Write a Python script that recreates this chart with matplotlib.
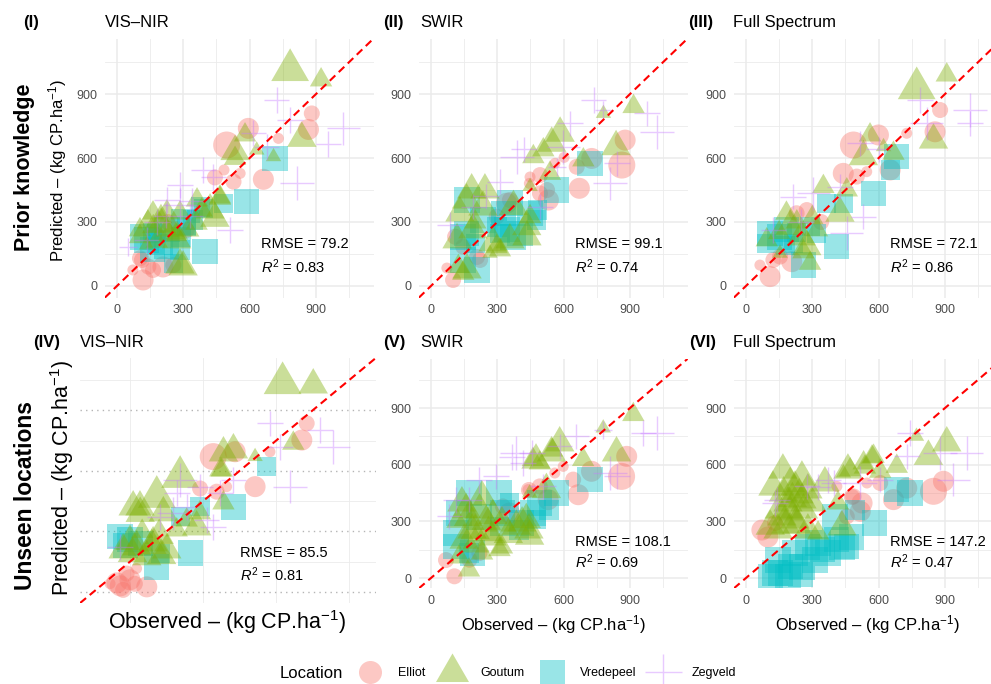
import matplotlib
matplotlib.use("Agg")
import matplotlib.pyplot as plt
from matplotlib.lines import Line2D

plt.rcParams['font.family'] = ['Liberation Sans', 'DejaVu Sans']
plt.rcParams['mathtext.fontset'] = 'custom'
plt.rcParams['mathtext.rm'] = 'Liberation Sans'
plt.rcParams['mathtext.it'] = 'Liberation Sans:italic'

locations = ['Elliot', 'Goutum', 'Vredepeel', 'Zegveld']
loc_colors = ['#F8766D', '#7CAE00', '#00BFC4', '#C77CFF']

# points: (observed, predicted, uncertainty class 1-4)
I_elliot = [(881, 809, 2), (866, 734, 3), (730, 692, 1), (594, 739, 3), (496, 661, 4), (662, 500, 3),
            (557, 528, 1), (527, 489, 2), (443, 509, 2), (484, 544, 1), (118, 28, 3), (104, 130, 2),
            (72, 75, 1), (142, 91, 2), (208, 89, 3), (255, 98, 2), (163, 75, 2), (113, 122, 2),
            (315, 262, 2), (180, 247, 1), (230, 300, 2)]
I_goutum = [(783, 1012, 4), (923, 966, 2), (836, 692, 3), (579, 708, 2), (534, 630, 3), (534, 598, 2),
            (632, 637, 1), (708, 606, 1), (466, 411, 2), (383, 356, 2), (443, 317, 3), (270, 216, 3),
            (164, 278, 2), (104, 231, 2), (285, 98, 3), (225, 262, 2), (322, 262, 2), (199, 325, 2),
            (360, 294, 2), (134, 192, 1), (250, 250, 3), (180, 210, 2), (163, 342, 2), (226, 347, 2),
            (285, 342, 2), (299, 89, 3), (362, 403, 2), (421, 356, 3), (466, 417, 2), (140, 300, 2),
            (200, 290, 3), (271, 248, 2), (104, 263, 2)]
I_vredepeel = [(715, 598, 3), (587, 395, 3), (398, 161, 3), (481, 387, 2), (391, 364, 2), (315, 278, 2),
               (134, 216, 3), (225, 184, 3), (255, 106, 2), (180, 247, 2), (345, 325, 1), (160, 170, 3),
               (290, 230, 2), (118, 230, 3), (195, 202, 3), (285, 169, 2), (344, 309, 2), (226, 263, 3),
               (160, 250, 2), (300, 300, 3), (376, 370, 2)]
I_zegveld = [(722, 872, 2), (1024, 739, 3), (956, 666, 2), (813, 484, 3), (783, 778, 2), (677, 653, 2),
             (436, 512, 2), (285, 473, 2), (285, 380, 3), (511, 262, 2), (134, 216, 2), (51, 184, 1),
             (617, 716, 2), (391, 544, 2), (340, 400, 2), (220, 330, 2), (226, 403, 2), (180, 300, 2),
             (330, 330, 2)]

II_elliot = [(878, 684, 3), (863, 567, 4), (727, 598, 3), (671, 458, 3), (659, 559, 2), (531, 403, 3),
             (493, 520, 2), (561, 575, 1), (445, 481, 1), (602, 603, 1), (493, 434, 2), (100, 28, 2),
             (72, 84, 1), (109, 231, 2), (146, 184, 2), (222, 122, 2), (342, 388, 3), (297, 325, 2),
             (357, 403, 2), (448, 511, 1), (525, 450, 2), (208, 136, 2)]
II_goutum = [(916, 841, 2), (780, 809, 1), (837, 653, 3), (584, 716, 3), (546, 669, 3), (508, 638, 2),
             (463, 606, 2), (689, 591, 2), (538, 528, 2), (448, 466, 1), (373, 372, 3), (433, 278, 3),
             (357, 216, 3), (184, 450, 3), (244, 450, 3), (161, 403, 3), (131, 342, 3), (124, 91, 2),
             (146, 59, 2), (297, 184, 2), (267, 153, 1), (235, 370, 3), (200, 300, 2), (118, 216, 3),
             (281, 202, 3), (312, 169, 2), (434, 230, 3), (448, 325, 2), (163, 75, 3), (190, 263, 3)]
II_vredepeel = [(719, 575, 3), (569, 450, 3), (448, 341, 3), (403, 247, 3), (327, 341, 3), (163, 403, 3),
                (161, 247, 3), (145, 122, 3), (208, 75, 3), (312, 247, 2), (478, 309, 2), (357, 389, 3),
                (235, 309, 3), (344, 263, 3), (145, 230, 3), (299, 277, 2), (480, 356, 2), (371, 230, 3),
                (200, 200, 2)]
II_zegveld = [(735, 872, 2), (780, 825, 1), (1021, 723, 3), (976, 809, 2), (840, 575, 2), (810, 481, 3),
              (629, 762, 2), (599, 653, 3), (388, 606, 3), (312, 489, 2), (192, 372, 2), (86, 286, 2),
              (493, 372, 2), (569, 559, 1), (420, 640, 2), (250, 420, 2)]

III_elliot = [(878, 825, 2), (855, 723, 3), (727, 716, 1), (599, 708, 3), (486, 661, 4), (652, 544, 3),
              (440, 528, 3), (546, 536, 1), (501, 513, 2), (109, 44, 3), (63, 98, 1), (124, 122, 2),
              (207, 114, 3), (154, 138, 2), (275, 356, 2), (229, 341, 2), (340, 300, 2)]
III_goutum = [(908, 989, 2), (772, 927, 4), (848, 684, 3), (561, 708, 2), (531, 606, 3), (622, 653, 1),
              (667, 622, 2), (350, 466, 2), (456, 450, 2), (425, 341, 3), (321, 263, 2), (183, 341, 2),
              (275, 184, 3), (290, 106, 2), (154, 153, 1), (94, 216, 2), (230, 300, 2), (250, 230, 3),
              (200, 280, 3), (300, 320, 2), (150, 250, 2), (260, 160, 2)]
III_vredepeel = [(682, 606, 3), (576, 434, 3), (410, 184, 3), (440, 388, 2), (365, 388, 2), (259, 98, 3),
                 (109, 247, 3), (184, 263, 3), (94, 200, 2), (320, 247, 2), (214, 200, 2), (652, 544, 2),
                 (150, 230, 3), (230, 250, 2), (180, 190, 2), (290, 280, 2)]
III_zegveld = [(787, 872, 2), (1014, 825, 3), (1014, 762, 2), (817, 762, 3), (516, 669, 2), (305, 434, 3),
               (425, 466, 2), (455, 247, 3), (531, 325, 2), (124, 263, 2), (214, 419, 2), (600, 640, 2),
               (250, 300, 2)]

IV_elliot = [(876, 836, 2), (856, 753, 3), (725, 695, 1), (582, 695, 3), (492, 671, 4), (664, 522, 3),
             (547, 522, 1), (506, 497, 2), (438, 513, 2), (96, 45, 3), (122, 10, 2), (68, 41, 1),
             (150, 60, 3), (219, 25, 3), (136, 91, 2), (177, 116, 1), (110, 30, 3), (170, 40, 2)]
IV_goutum = [(777, 1035, 4), (903, 1026, 3), (821, 737, 2), (575, 704, 3), (534, 689, 3), (527, 604, 2),
             (664, 671, 1), (356, 570, 4), (260, 471, 4), (163, 421, 3), (191, 421, 3), (287, 392, 3),
             (192, 389, 3), (424, 322, 3), (437, 392, 2), (122, 208, 3), (178, 223, 3), (245, 243, 3),
             (301, 208, 3), (219, 174, 3), (342, 307, 2), (383, 356, 2), (150, 250, 3), (240, 230, 3),
             (521, 605, 2), (534, 441, 2), (270, 280, 3), (200, 300, 2), (160, 190, 3), (280, 180, 3)]
IV_vredepeel = [(712, 621, 2), (575, 421, 3), (397, 193, 3), (109, 273, 3), (150, 258, 3), (260, 124, 3),
                (356, 372, 2), (438, 422, 2), (274, 190, 2), (192, 240, 3), (130, 230, 3)]
IV_zegveld = [(725, 836, 2), (986, 720, 3), (931, 803, 2), (808, 522, 3), (767, 720, 2), (356, 555, 3),
              (438, 522, 2), (274, 372, 2), (109, 224, 2), (328, 389, 3), (575, 555, 2), (492, 323, 2),
              (342, 491, 2), (383, 421, 2), (465, 357, 2), (521, 491, 2)]

V_elliot = [(885, 644, 3), (862, 538, 4), (726, 565, 3), (666, 441, 3), (643, 521, 2), (530, 415, 3),
            (492, 485, 2), (560, 556, 1), (439, 468, 1), (598, 591, 1), (68, 95, 2), (106, 9, 2),
            (174, 97, 2), (219, 132, 2), (325, 379, 2), (355, 344, 3), (443, 466, 2)]
V_goutum = [(915, 865, 2), (779, 794, 1), (839, 662, 3), (582, 715, 3), (545, 662, 3), (492, 609, 2),
            (461, 627, 2), (688, 627, 2), (522, 468, 3), (446, 450, 1), (431, 309, 3), (386, 274, 3),
            (446, 221, 3), (140, 397, 3), (231, 429, 3), (159, 362, 3), (186, 254, 3), (127, 111, 2),
            (172, 42, 2), (310, 150, 2), (276, 217, 3), (321, 291, 3), (412, 291, 3), (443, 254, 3),
            (321, 164, 2), (231, 132, 2), (475, 624, 3), (548, 677, 2), (250, 300, 3), (200, 180, 3),
            (170, 320, 3), (220, 360, 3), (260, 240, 3), (150, 200, 3), (280, 330, 3), (200, 250, 3),
            (350, 230, 3), (120, 300, 2)]
V_vredepeel = [(719, 521, 3), (567, 450, 3), (461, 344, 3), (408, 291, 3), (325, 344, 3), (172, 450, 3),
               (127, 344, 3), (113, 238, 3), (113, 168, 3), (189, 132, 3), (310, 274, 2), (477, 309, 2),
               (355, 397, 2), (308, 450, 3), (217, 323, 3), (398, 254, 2), (489, 397, 3), (534, 360, 2),
               (172, 132, 2)]
V_zegveld = [(779, 785, 1), (961, 768, 2), (1021, 768, 3), (840, 538, 2), (809, 556, 3), (658, 750, 2),
             (582, 697, 2), (386, 662, 3), (295, 538, 2), (174, 415, 2), (83, 326, 2), (507, 485, 2),
             (416, 609, 2), (113, 413, 2), (217, 519, 2), (367, 640, 2), (457, 661, 2)]

VI_elliot = [(893, 512, 3), (848, 459, 4), (727, 476, 3), (667, 415, 3), (607, 503, 2), (517, 353, 3),
             (486, 432, 2), (547, 503, 1), (411, 485, 1), (72, 254, 3), (99, 217, 3), (131, 291, 2),
             (456, 326, 2), (525, 397, 3), (479, 429, 2)]
VI_goutum = [(908, 715, 3), (771, 750, 1), (825, 644, 3), (577, 644, 2), (532, 609, 2), (471, 573, 2),
             (441, 556, 1), (682, 591, 2), (607, 565, 2), (167, 571, 3), (122, 481, 3), (253, 534, 3),
             (222, 481, 3), (280, 466, 3), (190, 397, 3), (253, 413, 3), (298, 397, 3), (163, 323, 3),
             (222, 307, 3), (145, 254, 3), (280, 254, 3), (357, 503, 3), (461, 571, 3), (538, 587, 2),
             (570, 640, 2), (434, 270, 3), (416, 397, 2), (326, 238, 2), (110, 274, 3), (200, 350, 3),
             (240, 440, 3), (180, 280, 3), (210, 420, 3), (260, 360, 3), (170, 450, 3), (230, 280, 3),
             (150, 360, 3), (200, 500, 3)]
VI_vredepeel = [(682, 468, 3), (742, 450, 3), (583, 291, 3), (456, 168, 3), (411, 203, 3), (346, 150, 3),
                (131, 26, 3), (190, 5, 3), (253, 58, 3), (312, 95, 3), (371, 132, 3), (434, 164, 3),
                (479, 217, 3), (145, 95, 3), (326, 185, 3), (403, 323, 3), (493, 360, 2), (222, 132, 3),
                (280, 164, 3), (155, 26, 3), (200, 60, 3), (110, 9, 3), (245, 20, 3)]
VI_zegveld = [(742, 768, 2), (998, 662, 3), (878, 662, 3), (938, 521, 3), (727, 644, 2), (517, 503, 3),
              (396, 503, 2), (276, 485, 2), (140, 415, 2), (607, 521, 2), (131, 397, 2), (326, 481, 2),
              (371, 519, 2)]

panel_tags = ['(I)', '(II)', '(III)', '(IV)', '(V)', '(VI)']
panel_titles = ['VIS–NIR', 'SWIR', 'Full Spectrum', 'VIS–NIR', 'SWIR', 'Full Spectrum']
rmse = [79.2, 99.1, 72.1, 85.5, 108.1, 147.2]
r2 = [0.83, 0.74, 0.86, 0.81, 0.69, 0.47]
panel_points = [
    [I_elliot, I_goutum, I_vredepeel, I_zegveld],
    [II_elliot, II_goutum, II_vredepeel, II_zegveld],
    [III_elliot, III_goutum, III_vredepeel, III_zegveld],
    [IV_elliot, IV_goutum, IV_vredepeel, IV_zegveld],
    [V_elliot, V_goutum, V_vredepeel, V_zegveld],
    [VI_elliot, VI_goutum, VI_vredepeel, VI_zegveld],
]

W, H = 991, 684
PT = 72 / 100  # points per pixel
lim = (-55, 1160)
TRI = [(-1, -0.577), (1, -0.577), (0, 1.155)]
markers = ['o', TRI, 's', '+']
marker_scale = [1.0, 1.4 / 0.866, 1.2, 1.6]
diam = {1: 11, 2: 16, 3: 21, 4: 27}
draw_order = [0, 2, 1, 3]  # cyan squares sit under the triangles

# axes boxes in pixels: left, top, right, bottom
boxes = [(104.8, 38.6, 373.5, 297.7), (418.8, 38.6, 687.5, 297.7), (733.8, 38.6, 1002.5, 297.7),
         (80.1, 358.0, 375.8, 603.0), (418.8, 358.9, 687.5, 588.4), (733.8, 358.9, 1002.5, 588.4)]
tag_x = [23, 383, 688, 33, 383, 689]
title_x = [105, 420, 733, 80, 420, 733]
note_x = [650, 650, 650, 600, 650, 650]

fig = plt.figure(figsize=(W / 100, H / 100), dpi=100)

for i in range(6):
    l, t, r, b = boxes[i]
    ax = fig.add_axes([l / W, 1 - b / H, (r - l) / W, (b - t) / H])
    ax.set_xlim(lim)
    ax.set_ylim(lim)
    ax.set_xticks([0, 300, 600, 900])
    ax.set_yticks([0, 300, 600, 900])
    ax.set_xticks([150, 450, 750, 1050], minor=True)
    ax.set_yticks([150, 450, 750, 1050], minor=True)
    for s in ax.spines.values():
        s.set_visible(False)
    ax.tick_params(which='both', length=0, labelsize=9, labelcolor='#4D4D4D')
    ax.tick_params(axis='x', pad=4.8)
    ax.tick_params(axis='y', pad=5.3)
    ax.grid(which='major', color='#EBEBEB', lw=1.1)
    ax.grid(which='minor', color='#EBEBEB', lw=0.6)
    if i == 3:
        ax.xaxis.grid(False, which='major')
        ax.yaxis.grid(True, which='major', color='#B5B5B5', lw=1.0, ls=(0, (1, 3)))
        ax.set_xticklabels([])
        ax.set_yticklabels([])
    ax.set_axisbelow(True)

    for k in draw_order:
        pts = panel_points[i][k]
        xs = [p[0] for p in pts]
        ys = [p[1] for p in pts]
        ss = [(diam[p[2]] * marker_scale[k] * PT) ** 2 for p in pts]
        if markers[k] == '+':
            ax.scatter(xs, ys, s=ss, marker='+', c=loc_colors[k], alpha=0.4, linewidths=1.0)
        else:
            ax.scatter(xs, ys, s=ss, marker=markers[k], c=loc_colors[k], alpha=0.4, linewidths=0)

    ax.axline((0, 0), slope=1, color='red', lw=1.5, ls=(0, (3.7, 2.3)), zorder=5)

    y1, y2 = (195, 90) if i < 3 else (192, 85)
    ax.text(note_x[i], y1, f'RMSE = {rmse[i]}', fontsize=10.5, ha='left', va='center')
    ax.text(note_x[i], y2, f'$R^2$ = {r2[i]:.2f}', fontsize=10.5, ha='left', va='center')

    base = 27 if i < 3 else 347
    fig.text(tag_x[i] / W, 1 - base / H, panel_tags[i], fontsize=12, fontweight='bold', va='baseline')
    fig.text(title_x[i] / W, 1 - base / H, panel_titles[i], fontsize=12, va='baseline')

pred_lab = 'Predicted – (kg CP.ha$^{-1}$)'
obs_lab = 'Observed – (kg CP.ha$^{-1}$)'
fig.text(25 / W, 1 - 167 / H, 'Prior knowledge', rotation=90, fontsize=15.5, fontweight='bold',
         ha='center', va='center')
fig.text(26 / W, 1 - 496 / H, 'Unseen locations', rotation=90, fontsize=16.5, fontweight='bold',
         ha='center', va='center')
fig.text(58 / W, 1 - 170 / H, pred_lab, rotation=90, fontsize=12, ha='center', va='center')
fig.text(62 / W, 1 - 478 / H, pred_lab, rotation=90, fontsize=15.5, ha='center', va='center')
fig.text(227 / W, 1 - 622 / H, obs_lab, fontsize=15.5, ha='center', va='center')
fig.text(553 / W, 1 - 625 / H, obs_lab, fontsize=12, ha='center', va='center')
fig.text(867 / W, 1 - 625 / H, obs_lab, fontsize=12, ha='center', va='center')

# legend
handles = [
    Line2D([], [], ls='none', marker='o', ms=23 * PT, color=loc_colors[0], alpha=0.4, mew=0),
    Line2D([], [], ls='none', marker=TRI, ms=33 / 0.866 * PT, color=loc_colors[1], alpha=0.4, mew=0),
    Line2D([], [], ls='none', marker='s', ms=25 * PT, color=loc_colors[2], alpha=0.4, mew=0),
    Line2D([], [], ls='none', marker='+', ms=37 * PT, color=loc_colors[3], alpha=0.4, mew=1.0),
]
fig.text(280 / W, 1 - 673 / H, 'Location', fontsize=12, ha='left', va='center')
fig.legend(handles, locations, loc='center left', bbox_to_anchor=(357.5 / W, 1 - 673 / H), ncol=4,
           frameon=False, fontsize=9, handlelength=2, handletextpad=1.25, columnspacing=1.15,
           borderaxespad=0, borderpad=0)

fig.savefig('out.png', dpi=100)
